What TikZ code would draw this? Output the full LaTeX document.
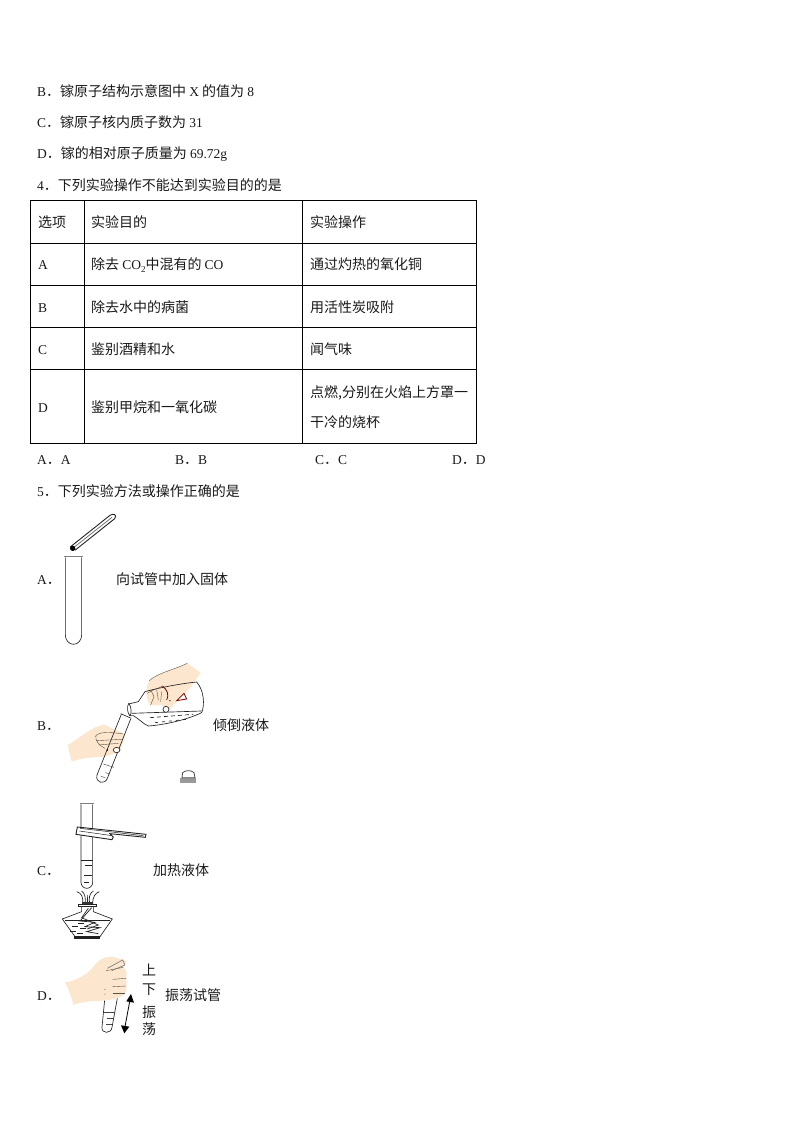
\documentclass[tikz,border=0pt]{standalone}
\usepackage{fontspec}
\setmainfont{Noto Sans CJK SC}[Scale=1]
\newfontfamily\latf{Liberation Serif}
\newcommand{\lat}[1]{{\fontsize{13.5}{14}\latf #1}}
\newcommand{\subt}[1]{\raisebox{-2.5pt}{\fontsize{9}{9}\latf #1}}
\definecolor{skin}{HTML}{FCE7CE}
\definecolor{ink}{HTML}{222222}
\definecolor{tclr}{HTML}{1A1A1A}
\tikzset{
 txt/.style={anchor=west,inner sep=0pt,text height=12.5pt,text depth=1.5pt,text=tclr,font=\fontsize{14}{15}\selectfont},
 rule/.style={line width=0.8pt,draw=black},
 ln/.style={line width=0.65pt,draw=ink},
 thin/.style={line width=0.45pt,draw=ink!85},
 hand/.style={fill=skin,draw=none},
 handline/.style={line width=0.4pt,draw=black!65!skin},
}
\begin{document}
\begin{tikzpicture}[x=1pt,y=-1pt]
\useasboundingbox[fill=white] (0,0) rectangle (794,1123);
% heading text
\node[txt] (t1) at (37,91) {\lat{B}．镓原子结构示意图中 \lat{X} 的值为 \lat{8}};
\node[txt] (t2) at (37,122) {\lat{C}．镓原子核内质子数为 \lat{31}};
\node[txt] (t3) at (37,153) {\lat{D}．镓的相对原子质量为 \lat{69.72g}};
\node[txt] (t4) at (37,185) {\lat{4}．下列实验操作不能达到实验目的的是};
% table
\draw[rule] (30.6,200.6) rectangle (476.4,443.3);
\foreach \yy in {243.3,285.3,327.3,369.3} \draw[rule] (30.6,\yy) -- (476.4,\yy);
\foreach \xx in {84.3,302.3} \draw[rule] (\xx,200.6) -- (\xx,443.3);
\node[txt] (a0) at (38,222) {选项};
\node[txt] (b0) at (91,222) {实验目的};
\node[txt] (c0) at (310,222) {实验操作};
\node[txt] (a1) at (38,264) {\lat{A}};
\node[txt] (b1) at (91,264) {除去 \lat{CO}\subt{2}中混有的 \lat{CO}};
\node[txt] (c1) at (310,264) {通过灼热的氧化铜};
\node[txt] (a2) at (38,307) {\lat{B}};
\node[txt] (b2) at (91,307) {除去水中的病菌};
\node[txt] (c2) at (310,307) {用活性炭吸附};
\node[txt] (a3) at (38,349) {\lat{C}};
\node[txt] (b3) at (91,349) {鉴别酒精和水};
\node[txt] (c3) at (310,349) {闻气味};
\node[txt] (a4) at (38,407) {\lat{D}};
\node[txt] (b4) at (91,407) {鉴别甲烷和一氧化碳};
\node[txt] (c4) at (310,392) {点燃,分别在火焰上方罩一};
\node[txt] (c5) at (310,422) {干冷的烧杯};
\node[txt] (oa) at (37,459) {\lat{A}．\lat{A}};
\node[txt] (ob) at (175,459) {\lat{B}．\lat{B}};
\node[txt] (oc) at (315,459) {\lat{C}．\lat{C}};
\node[txt] (od) at (452,459) {\lat{D}．\lat{D}};
\node[txt] (t5) at (37,491) {\lat{5}．下列实验方法或操作正确的是};
% option labels
\node[txt] (la) at (37,579) {\lat{A}．};
\node[txt] (lb) at (37,725) {\lat{B}．};
\node[txt] (lc) at (37,870) {\lat{C}．};
\node[txt] (ld) at (37,995) {\lat{D}．};
\node[txt] (ta) at (116,579) {向试管中加入固体};
\node[txt] (tb) at (213,725) {倾倒液体};
\node[txt] (tc) at (153,870) {加热液体};
\node[txt] (td) at (165,995) {振荡试管};
\node[txt,anchor=center] (v1) at (149,970) {上};
\node[txt,anchor=center] (v2) at (149,989) {下};
\node[txt,anchor=center] (v3) at (149,1012) {振};
\node[txt,anchor=center] (v4) at (149,1029) {荡};
% --- A: tube and tweezers
\begin{scope}[shift={(30,500)},x=0.3333pt,y=-0.3333pt]
 \draw[ln] (106,172) -- (106,405) arc[start angle=180,end angle=360,x radius=24.5,y radius=-28] -- (155,172);
 \draw[line width=1.5pt,draw=black!50] (103,170) -- (158,170);
 \draw[line width=0.9pt,draw=ink,fill=white] (122,140) -- (240,46) .. controls (252,38) and (262,46) .. (254,56) -- (136,150) -- cycle;
 \draw[line width=0.8pt,draw=black!55] (132,142) -- (246,52);
 \fill[black] (128,145) circle[radius=8];
\end{scope}
% --- B: pouring
\begin{scope}[shift={(30,650)},x=0.3333pt,y=-0.3333pt]
 % upper hand
 \fill[hand] (472,40) .. controls (430,60) and (380,70) .. (358,92) .. controls (345,115) and (345,150) .. (362,165)
   .. controls (385,170) and (395,160) .. (402,170) -- (420,178) .. controls (440,150) and (470,130) .. (490,100) -- (512,68) -- cycle;
 % bottle
 \draw[ln] (296,162) -- (325,155) -- (345,125) .. controls (400,110) and (460,100) .. (500,96)
   .. controls (522,120) and (525,165) .. (515,188) .. controls (470,210) and (400,225) .. (355,228)
   .. controls (340,222) and (325,205) .. (310,197) -- (298,197);
 \draw[ln] (296,160) .. controls (290,170) and (292,190) .. (300,198);
 \draw[ln] (296,160) .. controls (305,170) and (305,190) .. (300,198);
 \draw[ln] (305,190) -- (515,183);
 \draw[ln,dash pattern=on 4pt off 3pt] (360,203) -- (490,193);
 \draw[ln,dash pattern=on 3pt off 4pt] (375,218) -- (470,208);
 \draw[handline] (472,40) .. controls (430,60) and (380,70) .. (358,92);
 \draw[handline] (352,130) .. controls (365,120) and (385,115) .. (398,108);
 \draw[handline] (362,120) -- (372,140) -- (362,165) (380,118) -- (385,150) (395,125) -- (392,155);
 \draw[ln,fill=white] (408,178) circle[radius=9];
 \draw[line width=0.8pt,draw=red!50!black] (398,108) .. controls (412,120) and (418,135) .. (410,150) (440,152) -- (470,147) -- (462,130) -- cycle;
 \fill[black] (420,152) circle[radius=2];
 % lower hand
 \fill[hand] (113,285) .. controls (150,265) and (185,228) .. (225,224) .. controls (250,240) and (280,245) .. (285,255)
   -- (270,305) .. controls (262,312) and (240,312) .. (220,322) .. controls (190,320) and (150,325) .. (125,335) -- cycle;
 % tube
 \draw[ln] (274,193) -- (201,375) .. controls (195,400) and (225,405) .. (232,385) -- (302,207);
 \draw[ln] (272,191) -- (304,205);
 \draw[thin] (220,342) -- (252,352);
 \draw[thin] (226,368) -- (240,372);
 \draw[thin] (212,378) -- (226,384);
 \draw[handline] (195,260) .. controls (205,245) and (235,245) .. (280,252);
 \draw[handline] (200,272) -- (275,268) (205,285) -- (265,280);
 \draw[handline] (198,258) .. controls (195,270) and (205,285) .. (225,295);
 \draw[ln,fill=white] (260,300) ellipse[x radius=10,y radius=8];
 \fill[black] (232,300) circle[radius=2.5];
 % stopper
 \fill[black!40] (451,383) rectangle (499,400);
 \draw[line width=0.8pt,draw=black!70,fill=white] (456,383) -- (458,368) .. controls (465,360) and (485,360) .. (492,368) -- (495,383) -- cycle;
\end{scope}
% --- C: heating
\begin{scope}[shift={(30,795)},x=0.3333pt,y=-0.3333pt]
 \draw[ln] (153,28) -- (153,262) arc[start angle=180,end angle=360,x radius=17.5,y radius=-18] -- (188,28);
 \draw[line width=1pt,draw=black!50] (150,26) -- (191,26);
 \draw[ln] (153,197) -- (188,197);
 \foreach \yy/\xa/\xb in {212/165/185,240/163/185,263/163/178} \draw[ln] (\xa,\yy) -- (\xb,\yy);
 % clamp
 \draw[line width=0.9pt,draw=ink,fill=white] (142,96) -- (348,118) -- (346,127) -- (240,116) -- (250,126) -- (246,134) -- (138,118) -- cycle;
 \draw[line width=0.5pt,draw=ink] (148,108) -- (246,122) (150,100) -- (340,122);
 % flame
 \draw[ln] (158,328) .. controls (160,305) and (155,295) .. (140,290);
 \draw[ln] (165,328) .. controls (168,310) and (165,295) .. (155,288);
 \draw[ln] (180,328) .. controls (175,310) and (178,295) .. (190,288);
 \draw[ln] (188,328) .. controls (188,305) and (195,295) .. (208,290);
 \draw[ln] (173,328) -- (172,300);
 \fill[black!80] (156,322) rectangle (190,329);
 % lamp
 \draw[line width=0.9pt,draw=ink] (146,328) rectangle (200,335);
 \draw[ln] (155,335) -- (155,350) -- (97,372) -- (135,425) -- (210,425) -- (247,372) -- (190,350) -- (190,335);
 \draw[line width=1.1pt,draw=ink] (135,426) rectangle (209,431);
 \draw[ln] (104,376) -- (240,376);
 \foreach \xa/\yy in {145/385,125/393,150/400,120/408,140/414} \draw[ln] (\xa,\yy) -- +(18,0);
 \draw[line width=0.7pt,draw=ink] (185,338) -- (150,378) -- (195,382) -- (165,395) -- (210,398) -- (170,410) -- (205,416);
 \draw[line width=0.7pt,draw=ink] (175,340) -- (155,368) -- (205,390) -- (172,402);
\end{scope}
% --- D: shaking
\begin{scope}[shift={(30,950)},x=0.3333pt,y=-0.3333pt]
 \draw[ln] (224,150) -- (216,232) .. controls (214,252) and (244,252) .. (246,232) -- (262,145);
 \draw[thin] (222,186) -- (255,186);
 \draw[thin] (232,205) -- (248,205);
 \draw[thin] (228,222) -- (245,222);
 \fill[hand] (105,97) .. controls (140,92) and (170,75) .. (190,50) .. controls (205,30) and (225,18) .. (245,20)
   -- (285,30) .. controls (292,35) and (285,45) .. (278,50) .. controls (292,62) and (292,75) .. (288,85)
   .. controls (292,100) and (290,120) .. (285,130) .. controls (275,145) and (245,148) .. (225,152)
   .. controls (195,152) and (150,155) .. (130,165) .. controls (125,140) and (115,115) .. (105,97) -- cycle;
 \draw[handline] (228,62) -- (280,52);
 \draw[handline] (248,88) -- (288,85);
 \draw[handline] (248,110) -- (288,108);
 \draw[handline] (250,130) -- (284,130);
 \draw[line width=0.6pt,draw=black!55] (232,55) -- (278,30) -- (285,45) -- (245,62);
 \fill[black!70] (225,118) circle[radius=1.5] (225,132) circle[radius=1.5];
 \draw[line width=0.8pt,draw=black] (299,155) -- (285,230);
 \fill[black] (303,132) -- (312,158) -- (289,154) -- cycle;
 \fill[black] (283,250) -- (273,226) -- (298,230) -- cycle;
\end{scope}
\end{tikzpicture}
\end{document}
